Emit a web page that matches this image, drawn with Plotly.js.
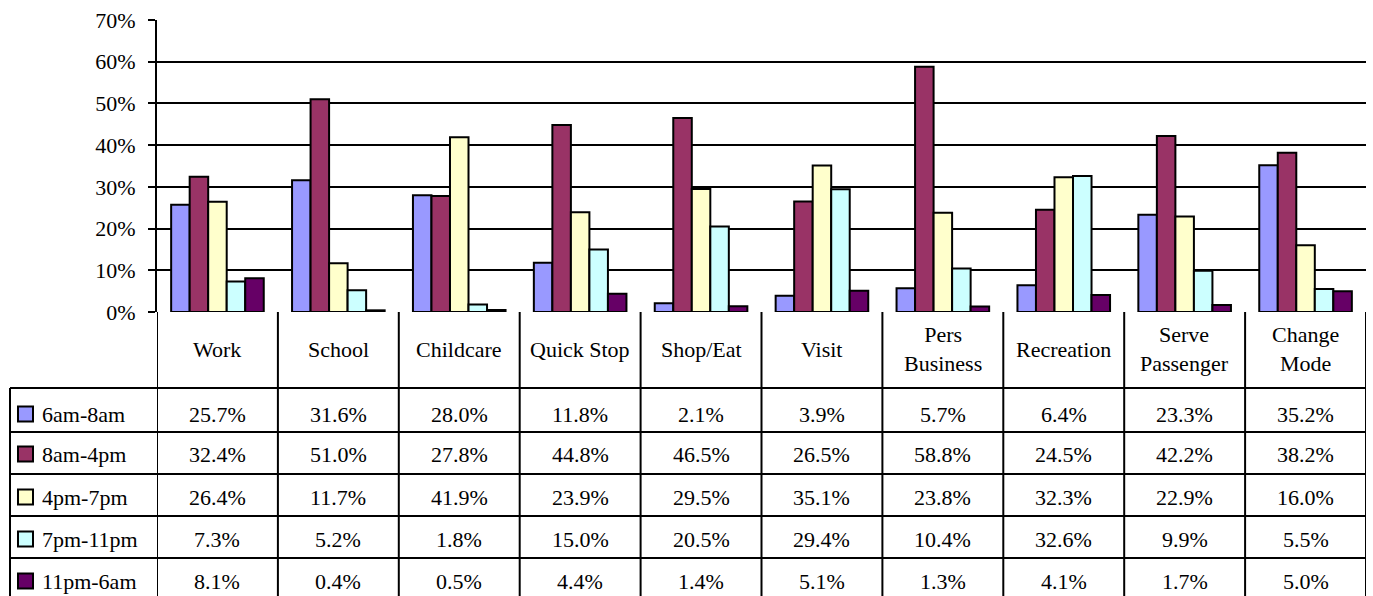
<!DOCTYPE html>
<html>
<head>
<meta charset="utf-8">
<script src="https://cdn.plot.ly/plotly-3.0.1.min.js"></script>
<style>html,body{margin:0;padding:0;background:#fff;font-family:'Liberation Serif';}#chart{width:1373px;height:596px;}
#chart text{font-family:'Liberation Serif' !important;}</style>
</head>
<body>
<div id="chart"></div>
<script>
// ---- data ----
var categories = ["Work", "School", "Childcare", "Quick Stop", "Shop/Eat", "Visit", "Pers<br>Business", "Recreation", "Serve<br>Passenger", "Change<br>Mode"];
var seriesNames = ["6am-8am", "8am-4pm", "4pm-7pm", "7pm-11pm", "11pm-6am"];
var s6am8am  = [25.7, 31.6, 28.0, 11.8, 2.1, 3.9, 5.7, 6.4, 23.3, 35.2];
var s8am4pm  = [32.4, 51.0, 27.8, 44.8, 46.5, 26.5, 58.8, 24.5, 42.2, 38.2];
var s4pm7pm  = [26.4, 11.7, 41.9, 23.9, 29.5, 35.1, 23.8, 32.3, 22.9, 16.0];
var s7pm11pm = [7.3, 5.2, 1.8, 15.0, 20.5, 29.4, 10.4, 32.6, 9.9, 5.5];
var s11pm6am = [8.1, 0.4, 0.5, 4.4, 1.4, 5.1, 1.3, 4.1, 1.7, 5.0];
var yTicks = [0, 10, 20, 30, 40, 50, 60, 70];

// ---- style ----
var seriesValues = [s6am8am, s8am4pm, s4pm7pm, s7pm11pm, s11pm6am];
var barColors = ["#9999FF", "#993366", "#FFFFCC", "#CCFFFF", "#660066"];
var txtFont = {family: 'Liberation Serif', size: 22, color: '#000'};

var W = 1373, H = 596;
var PL = 157, PR = 1366, PT = 20, PB = 312;
var plotW = PR - PL, plotH = PB - PT;
function px2x(p) { return (p - PL) / plotW; }
function py2y(p) { return (PB - p) / plotH; }

var traces = seriesNames.map(function (n, i) {
  return {
    type: 'bar',
    name: n,
    x: categories,
    y: seriesValues[i],
    marker: {color: barColors[i], line: {color: '#000', width: 2}},
    hoverinfo: 'x+y'
  };
});

var shapes = [];
var annotations = [];
function addLine(xref, x0, x1, y0, y1) {
  shapes.push({type: 'line', xref: xref, yref: 'paper', x0: x0, x1: x1, y0: y0, y1: y1, line: {color: '#000', width: 2}});
}

// vertical table lines (category boundaries)
for (var i = 0; i <= categories.length; i++) {
  addLine('x', i - 0.5, i - 0.5, py2y(312), py2y(600));
}
// left border of legend column
addLine('paper', px2x(10), px2x(10), py2y(388), py2y(600));
// horizontal row lines
[388, 432, 474, 516, 558].forEach(function (p) { addLine('paper', px2x(10), 1, py2y(p), py2y(p)); });

// category labels
categories.forEach(function (c) {
  annotations.push({xref: 'x', yref: 'paper', x: c, y: py2y(349), text: c, showarrow: false,
    xanchor: 'center', yanchor: 'middle', align: 'center', font: txtFont});
});

// rows
var rowCenters = [414, 454, 497, 539, 581];
seriesNames.forEach(function (n, i) {
  var yc = py2y(rowCenters[i]);
  shapes.push({type: 'rect', xref: 'paper', yref: 'paper', x0: px2x(18), x1: px2x(33), y0: py2y(rowCenters[i] - 7.5), y1: py2y(rowCenters[i] + 7.5),
    fillcolor: barColors[i], line: {color: '#000', width: 2}});
  annotations.push({xref: 'paper', yref: 'paper', x: px2x(40), y: yc, text: n, showarrow: false,
    xanchor: 'left', yanchor: 'middle', font: txtFont});
  seriesValues[i].forEach(function (v, j) {
    annotations.push({xref: 'x', yref: 'paper', x: categories[j], y: yc, text: v.toFixed(1) + '%', showarrow: false,
      xanchor: 'center', yanchor: 'middle', font: txtFont});
  });
});

var layout = {
  width: W, height: H,
  margin: {l: PL, r: W - PR, t: PT, b: H - PB, autoexpand: false},
  paper_bgcolor: '#fff', plot_bgcolor: '#fff',
  barmode: 'group', bargap: 0.234, bargroupgap: 0,
  showlegend: false,
  font: txtFont,
  xaxis: {type: 'category', range: [-0.5, categories.length - 0.5], showticklabels: false, ticks: '',
    showgrid: false, zeroline: false, showline: false, fixedrange: true},
  yaxis: {range: [0, 70], tickvals: yTicks, ticktext: yTicks.map(function (v) { return v + '%'; }),
    ticks: 'outside', ticklen: 7, tickwidth: 2, tickcolor: '#000', ticklabelstandoff: 8,
    showgrid: true, gridcolor: '#000', gridwidth: 2, zeroline: false,
    showline: true, linecolor: '#000', linewidth: 2,
    tickfont: txtFont, fixedrange: true},
  shapes: shapes,
  annotations: annotations
};

var gd = document.getElementById('chart');
Plotly.newPlot(gd, traces, layout, {staticPlot: true});
if (document.fonts && document.fonts.load) {
  document.fonts.load('22px "Liberation Serif"').then(function () {
    Plotly.react(gd, traces, layout, {staticPlot: true});
  });
}
</script>
</body>
</html>
